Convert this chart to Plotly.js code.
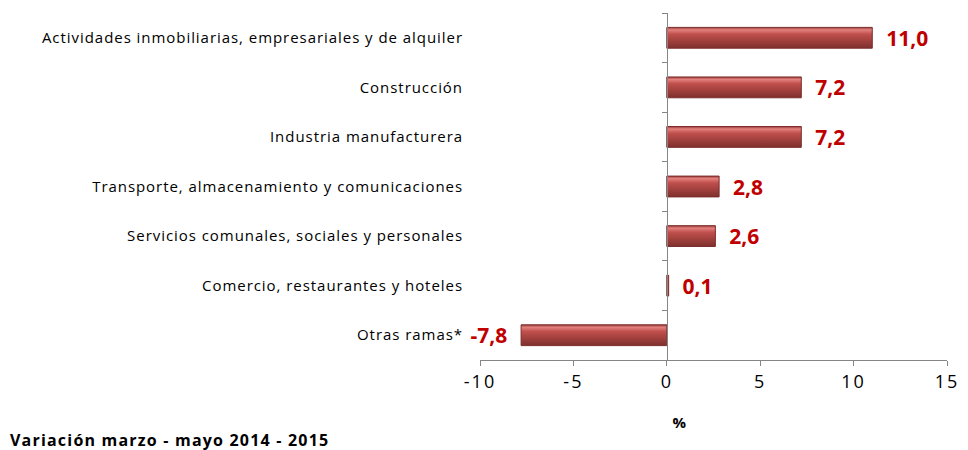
<!DOCTYPE html>
<html>
<head>
<meta charset="utf-8">
<script src="https://cdn.plot.ly/plotly-3.0.1.min.js"></script>
<style>
html,body{margin:0;padding:0;background:#fff;}
#chart{width:968px;height:450px;}
#chart .ytick text{letter-spacing:0.95px;}
#chart .xtick text{letter-spacing:2px;}
#chart .annotation-text{letter-spacing:1.2px;}
</style>
</head>
<body>
<div id="chart"></div>
<script>
var categories = [
  "Actividades inmobiliarias, empresariales y de alquiler",
  "Construcción",
  "Industria manufacturera",
  "Transporte, almacenamiento y comunicaciones",
  "Servicios comunales, sociales y personales",
  "Comercio, restaurantes y hoteles",
  "Otras ramas*"
];
var values = [11.0, 7.2, 7.2, 2.8, 2.6, 0.1, -7.8];
var xTickVals = [-10, -5, 0, 5, 10, 15];
var xTickText = ["-10", "-5", "0", "5", "10", "15"];
var xTitle = "%";
var footnote = "Variación marzo - mayo 2014 - 2015";

var pad = "\u00a0\u00a0";
var labels = values.map(function (v) {
  var s = v.toFixed(1).replace(".", ",");
  return v < 0 ? s + pad : pad + s;
});

var FONT = "'Open Sans', Lato, sans-serif";

var trace = {
  type: "bar",
  orientation: "h",
  y: categories,
  x: values,
  text: labels,
  textposition: "outside",
  constraintext: "none",
  cliponaxis: false,
  textfont: {family: FONT, size: 21, color: "#C00000", weight: "bold"},
  marker: {color: "#A8413F", line: {color: "#7B2D2B", width: 1}},
  hoverinfo: "skip"
};

var layout = {
  width: 968,
  height: 450,
  margin: {l: 480, r: 21, t: 13, b: 90},
  paper_bgcolor: "#ffffff",
  plot_bgcolor: "#ffffff",
  showlegend: false,
  bargap: 0.58,
  xaxis: {
    range: [-10, 15],
    tickvals: xTickVals,
    ticktext: xTickText,
    showgrid: false,
    zeroline: false,
    showline: true,
    linecolor: "#868686",
    linewidth: 1,
    ticks: "outside",
    ticklen: 5,
    tickcolor: "#868686",
    tickfont: {family: FONT, size: 18, color: "#000"},
    fixedrange: true
  },
  yaxis: {
    type: "category",
    categoryorder: "array",
    categoryarray: categories,
    autorange: "reversed",
    showgrid: false,
    zeroline: false,
    showline: false,
    ticks: "",
    ticklabelstandoff: 16,
    tickfont: {family: FONT, size: 15, color: "#000"},
    fixedrange: true
  },
  yaxis2: {
    overlaying: "y",
    anchor: "free",
    position: 0.4,
    side: "left",
    range: [-0.5, categories.length - 0.5],
    tick0: -0.5,
    dtick: 1,
    showticklabels: false,
    showgrid: false,
    zeroline: false,
    showline: true,
    linecolor: "#868686",
    linewidth: 1,
    ticks: "outside",
    ticklen: 5,
    tickcolor: "#868686",
    fixedrange: true
  },
  annotations: [
    {text: xTitle, xref: "paper", yref: "paper", x: 0.428, y: 0, xanchor: "center", yanchor: "middle",
     yshift: -62, showarrow: false, font: {family: FONT, size: 15, color: "#000", weight: "bold"}},
    {text: footnote, xref: "paper", yref: "paper", x: -1.011, y: 0, xanchor: "left", yanchor: "middle", align: "left",
     yshift: -80, showarrow: false, font: {family: FONT, size: 16, color: "#000", weight: "bold"}}
  ]
};

var axisTrace = {type: "scatter", x: [null], y: [null], yaxis: "y2", hoverinfo: "skip", showlegend: false};

Plotly.newPlot("chart", [trace, axisTrace], layout, {displayModeBar: false, staticPlot: true}).then(function (gd) {
  var NS = "http://www.w3.org/2000/svg";
  var svg = gd.querySelector(".main-svg");
  var defs = svg.querySelector("defs") || svg.insertBefore(document.createElementNS(NS, "defs"), svg.firstChild);
  var grad = document.createElementNS(NS, "linearGradient");
  grad.setAttribute("id", "barGrad");
  grad.setAttribute("x1", "0"); grad.setAttribute("y1", "0");
  grad.setAttribute("x2", "0"); grad.setAttribute("y2", "1");
  [["0", "#9A3E3C"], ["0.12", "#E3817E"], ["0.32", "#C0504D"], ["0.6", "#A5423F"], ["1", "#7E302E"]].forEach(function (s) {
    var st = document.createElementNS(NS, "stop");
    st.setAttribute("offset", s[0]);
    st.setAttribute("stop-color", s[1]);
    grad.appendChild(st);
  });
  defs.appendChild(grad);
  gd.querySelectorAll(".bars .point path").forEach(function (p) {
    p.style.fill = "url(#barGrad)";
  });
});
</script>
</body>
</html>
